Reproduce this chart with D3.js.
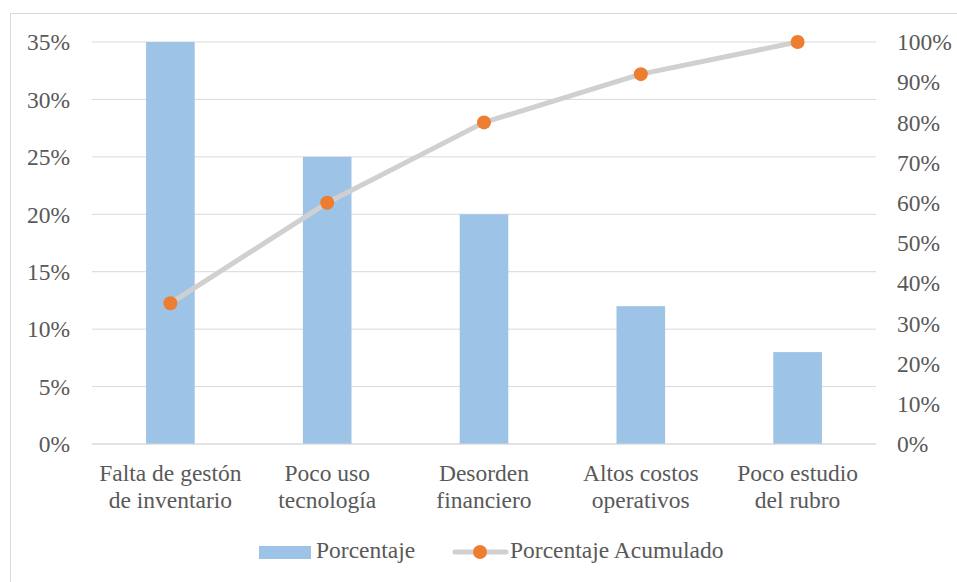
<!DOCTYPE html>
<html>
<head>
<meta charset="utf-8">
<script src="https://cdn.jsdelivr.net/npm/d3@7"></script>
<style>
  body { margin: 0; background: #fff; }
  svg text { font-family: "Liberation Serif", Tinos, "Times New Roman", "DejaVu Serif", serif; fill: #595959; }
</style>
</head>
<body>
<svg id="chart" width="957" height="582"></svg>
<script>
const categories = [
    ["Falta de gestón", "de inventario"],
    ["Poco uso", "tecnología"],
    ["Desorden", "financiero"],
    ["Altos costos", "operativos"],
    ["Poco estudio", "del rubro"]
];
const porcentaje = [35, 25, 20, 12, 8];
const acumulado = [35, 60, 80, 92, 100];
const leftTicks = [0, 5, 10, 15, 20, 25, 30, 35];
const rightTicks = [0, 10, 20, 30, 40, 50, 60, 70, 80, 90, 100];

const fontSize = 23.5;
const serif = '"Liberation Serif", Tinos, "Times New Roman", "DejaVu Serif", serif';

const svg = d3.select("#chart"),
      margin = {top: 42, right: 81, bottom: 138, left: 92},
      width = +svg.attr("width"),
      height = +svg.attr("height");

// chart frame
svg.append("rect")
    .attr("x", 10.5).attr("y", 13.5)
    .attr("width", 960).attr("height", 600)
    .attr("fill", "none")
    .attr("stroke", "#d9d9d9");

const x = d3.scaleBand()
    .domain(d3.range(categories.length))
    .range([margin.left, width - margin.right]);

const yLeft = d3.scaleLinear().domain([0, 35]).range([height - margin.bottom, margin.top]);
const yRight = d3.scaleLinear().domain([0, 100]).range([height - margin.bottom, margin.top]);

// gridlines
svg.append("g")
    .selectAll("line")
    .data(leftTicks)
    .join("line")
    .attr("x1", margin.left)
    .attr("x2", width - margin.right)
    .attr("y1", d => yLeft(d))
    .attr("y2", d => yLeft(d))
    .attr("stroke", "#d9d9d9")
    .attr("stroke-width", 1);

// left axis labels
const leftAxis = d3.axisLeft(yLeft)
    .tickValues(leftTicks)
    .tickFormat(d => d + "%")
    .tickSize(0)
    .tickPadding(22);
svg.append("g")
    .attr("transform", `translate(${margin.left},0)`)
    .call(leftAxis)
    .attr("font-family", serif)
    .call(g => g.select(".domain").remove())
    .call(g => g.selectAll("text")
        .style("font-family", serif)
        .attr("font-size", fontSize)
        .attr("dy", "0.33em"));

// right axis labels
const rightAxis = d3.axisRight(yRight)
    .tickValues(rightTicks)
    .tickFormat(d => d + "%")
    .tickSize(0)
    .tickPadding(21);
svg.append("g")
    .attr("transform", `translate(${width - margin.right},0)`)
    .call(rightAxis)
    .attr("font-family", serif)
    .call(g => g.select(".domain").remove())
    .call(g => g.selectAll("text")
        .style("font-family", serif)
        .attr("font-size", fontSize)
        .attr("dy", "0.33em"));

// bars
const barW = x.bandwidth() * 0.31;
svg.append("g")
    .selectAll("rect")
    .data(porcentaje)
    .join("rect")
    .attr("x", (d, i) => x(i) + x.bandwidth() / 2 - barW / 2)
    .attr("y", d => yLeft(d))
    .attr("width", barW)
    .attr("height", d => yLeft(0) - yLeft(d))
    .attr("fill", "#9dc3e6");

// baseline on top of bars
svg.append("line")
    .attr("x1", margin.left).attr("x2", width - margin.right)
    .attr("y1", yLeft(0)).attr("y2", yLeft(0))
    .attr("stroke", "#d9d9d9");

// cumulative line
const line = d3.line()
    .x((d, i) => x(i) + x.bandwidth() / 2)
    .y(d => yRight(d));

svg.append("path")
    .datum(acumulado)
    .attr("d", line)
    .attr("fill", "none")
    .attr("stroke", "#d0d0d0")
    .attr("stroke-width", 5)
    .attr("stroke-linejoin", "round")
    .attr("stroke-linecap", "round");

svg.append("g")
    .selectAll("circle")
    .data(acumulado)
    .join("circle")
    .attr("cx", (d, i) => x(i) + x.bandwidth() / 2)
    .attr("cy", d => yRight(d))
    .attr("r", 7)
    .attr("fill", "#ed7d31");

// category labels
const catLabels = svg.append("g")
    .selectAll("text")
    .data(categories)
    .join("text")
    .attr("x", (d, i) => x(i) + x.bandwidth() / 2)
    .attr("y", 481)
    .attr("text-anchor", "middle")
    .style("font-family", serif)
    .attr("font-size", fontSize);
catLabels.selectAll("tspan")
    .data(d => d)
    .join("tspan")
    .attr("x", function() { return this.parentNode.getAttribute("x"); })
    .attr("dy", (d, i) => i === 0 ? 0 : 27)
    .text(d => d);

// legend
const legend = svg.append("g");
legend.append("rect")
    .attr("x", 259).attr("y", 546)
    .attr("width", 52).attr("height", 13)
    .attr("fill", "#9dc3e6");
legend.append("text")
    .attr("x", 316).attr("y", 558)
    .style("font-family", serif)
    .attr("font-size", fontSize)
    .text("Porcentaje");
legend.append("line")
    .attr("x1", 455).attr("x2", 506)
    .attr("y1", 552).attr("y2", 552)
    .attr("stroke", "#d0d0d0")
    .attr("stroke-width", 5)
    .attr("stroke-linecap", "round");
legend.append("circle")
    .attr("cx", 480).attr("cy", 552)
    .attr("r", 7)
    .attr("fill", "#ed7d31");
legend.append("text")
    .attr("x", 510).attr("y", 558)
    .style("font-family", serif)
    .attr("font-size", fontSize)
    .text("Porcentaje Acumulado");
</script>
</body>
</html>
